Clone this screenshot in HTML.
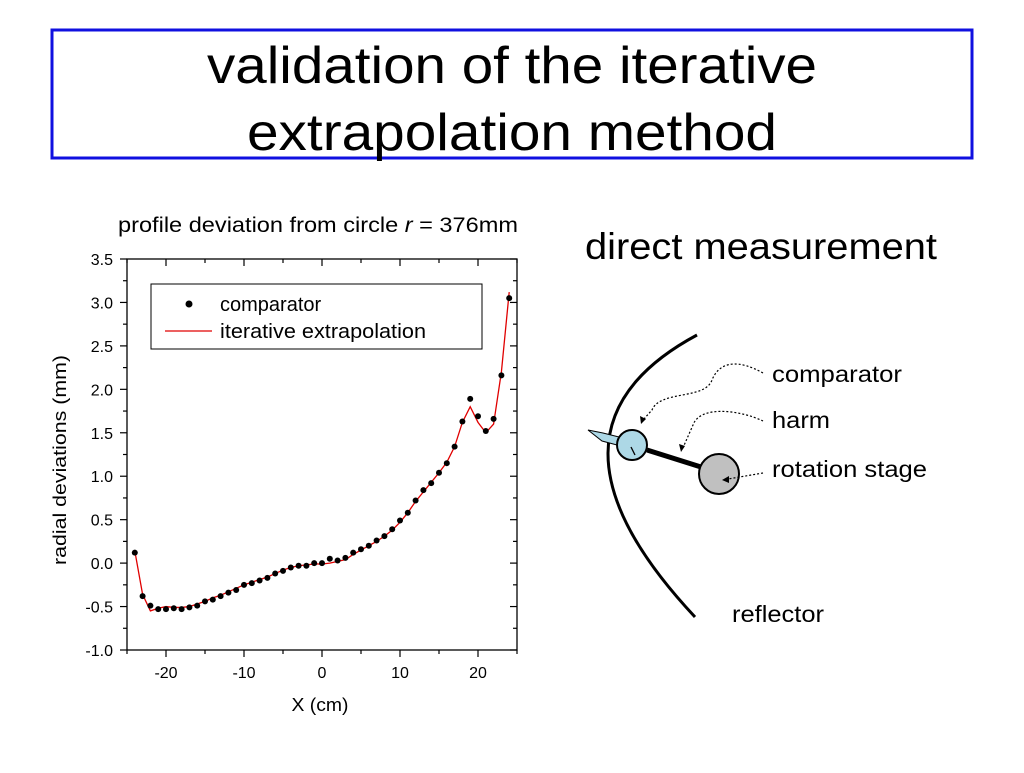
<!DOCTYPE html>
<html><head><meta charset="utf-8"><style>
body{margin:0;background:#fff;width:1024px;height:768px;overflow:hidden;font-family:"Liberation Sans",sans-serif}
</style></head><body>
<svg width="1024" height="768" viewBox="0 0 1024 768" xmlns="http://www.w3.org/2000/svg" font-family="Liberation Sans, sans-serif">
<rect x="52" y="30" width="920" height="128" fill="#fff" stroke="#1010e0" stroke-width="3"/>
<text x="512" y="83" font-size="52" text-anchor="middle" textLength="610" lengthAdjust="spacingAndGlyphs">validation of the iterative</text>
<text x="512" y="150" font-size="52" text-anchor="middle" textLength="530" lengthAdjust="spacingAndGlyphs">extrapolation method</text>

<text x="318" y="232" font-size="21" text-anchor="middle" textLength="400" lengthAdjust="spacingAndGlyphs">profile deviation from circle <tspan font-style="italic">r</tspan> = 376mm</text>
<g id="chart"></g>
<text x="320" y="711" font-size="18" text-anchor="middle" textLength="57" lengthAdjust="spacingAndGlyphs">X (cm)</text>
<text transform="translate(66,460) rotate(-90)" font-size="18" text-anchor="middle" textLength="210" lengthAdjust="spacingAndGlyphs">radial deviations (mm)</text>

<g>
<rect x="151" y="284" width="331" height="65" fill="#fff" stroke="#000" stroke-width="1"/>
<circle cx="189" cy="304" r="3.5" fill="#000"/>
<text x="220" y="311" font-size="20">comparator</text>
<line x1="165" y1="331" x2="212" y2="331" stroke="#e00000" stroke-width="1.3"/>
<text x="220" y="338" font-size="20" textLength="206" lengthAdjust="spacingAndGlyphs">iterative extrapolation</text>
</g>

<text x="585" y="259" font-size="37" textLength="352" lengthAdjust="spacingAndGlyphs">direct measurement</text>
<path d="M697,335 Q520,430 695,617" fill="none" stroke="#000" stroke-width="3"/>
<line x1="647" y1="450" x2="701" y2="467" stroke="#000" stroke-width="5"/>
<polygon points="588,430 603,433 619,437 617,445 602,441" fill="#add8e6" stroke="#000" stroke-width="1"/>
<circle cx="632" cy="445" r="15" fill="#add8e6" stroke="#000" stroke-width="2"/>
<line x1="631" y1="447" x2="635" y2="455" stroke="#000" stroke-width="1.3"/>
<circle cx="719" cy="474" r="20" fill="#c0c0c0" stroke="#000" stroke-width="2"/>
<g fill="none" stroke="#000" stroke-width="1.2" stroke-dasharray="2,2">
<path d="M763,373 C740,360 720,360 712,380 C705,400 660,390 652,410 L643,420"/>
<path d="M763,421 C740,410 700,405 693,425 L682,450"/>
<path d="M763,473 L728,479"/>
</g>
<polygon points="641,424 640,416 646,419" fill="#000"/>
<polygon points="681,452 679,444 685,446" fill="#000"/>
<polygon points="722,480 729,476 729,483" fill="#000"/>
<text x="772" y="382" font-size="23" textLength="130" lengthAdjust="spacingAndGlyphs">comparator</text>
<text x="772" y="428" font-size="23" textLength="58" lengthAdjust="spacingAndGlyphs">harm</text>
<text x="772" y="477" font-size="23" textLength="155" lengthAdjust="spacingAndGlyphs">rotation stage</text>
<text x="732" y="622" font-size="23" textLength="92" lengthAdjust="spacingAndGlyphs">reflector</text>
</svg>
<script>
const xs = [-24,-23,-22,-21,-20,-19,-18,-17,-16,-15,-14,-13,-12,-11,-10,-9,-8,-7,-6,-5,-4,-3,-2,-1,0,1,2,3,4,5,6,7,8,9,10,11,12,13,14,15,16,17,18,19,20,21,22,23,24];
const comparator = [0.12,-0.38,-0.49,-0.53,-0.53,-0.52,-0.53,-0.51,-0.49,-0.44,-0.42,-0.38,-0.34,-0.31,-0.25,-0.23,-0.20,-0.17,-0.12,-0.09,-0.05,-0.03,-0.03,0.00,0.00,0.05,0.03,0.06,0.12,0.16,0.20,0.26,0.31,0.39,0.49,0.58,0.72,0.84,0.92,1.04,1.15,1.34,1.63,1.89,1.69,1.52,1.66,2.16,3.05];
const iterative = [0.14,-0.36,-0.55,-0.52,-0.50,-0.51,-0.51,-0.50,-0.47,-0.44,-0.40,-0.37,-0.33,-0.29,-0.25,-0.22,-0.19,-0.16,-0.12,-0.08,-0.05,-0.03,-0.02,-0.01,-0.01,0.00,0.02,0.04,0.10,0.15,0.20,0.25,0.31,0.38,0.47,0.58,0.71,0.82,0.93,1.04,1.16,1.34,1.62,1.80,1.62,1.50,1.60,2.20,3.12];
const yTicks = [-1.0,-0.5,0.0,0.5,1.0,1.5,2.0,2.5,3.0,3.5];
const xTicks = [-20,-10,0,10,20];
const NS='http://www.w3.org/2000/svg';
const L=127,R=517,T=259,B=650;
const sx=v=>L+(v+25)*(R-L)/50;
const sy=v=>B-(v+1)*(B-T)/4.5;
const g=document.getElementById('chart');
function mk(tag,attrs){const e=document.createElementNS(NS,tag);for(const k in attrs)e.setAttribute(k,attrs[k]);g.appendChild(e);return e;}
const frame=mk('rect',{x:L,y:T,width:R-L,height:B-T,fill:'none',stroke:'#000','stroke-width':1.3});


for(let v=-1;v<=3.5001;v+=0.25){const y=sy(v);const major=Math.abs(v*2-Math.round(v*2))<1e-6;const len=major?7:4;
mk('line',{x1:L-len,y1:y,x2:L,y2:y,stroke:'#000','stroke-width':1.2});mk('line',{x1:R,y1:y,x2:R-len,y2:y,stroke:'#000','stroke-width':1.2});}
yTicks.forEach(v=>{const t=mk('text',{x:113,y:sy(v)+6,'font-size':16,'text-anchor':'end'});t.textContent=v.toFixed(1);

});
for(let v=-25;v<=25;v+=5){const x=sx(v);const major=v%10===0;const len=major?7:4;
mk('line',{x1:x,y1:B,x2:x,y2:B+len,stroke:'#000','stroke-width':1.2});mk('line',{x1:x,y1:T,x2:x,y2:T+len,stroke:'#000','stroke-width':1.2});}
xTicks.forEach(v=>{const t=mk('text',{x:sx(v),y:B+28,'font-size':16,'text-anchor':'middle'});t.textContent=String(v);

});
const line=mk('polyline',{points:xs.map((x,i)=>sx(x)+','+sy(iterative[i])).join(' '),fill:'none',stroke:'#e00000','stroke-width':1.3});


xs.forEach((x,i)=>{const c=mk('circle',{cx:sx(x),cy:sy(comparator[i]),r:3,fill:'#000'});

});
</script>
</body></html>
